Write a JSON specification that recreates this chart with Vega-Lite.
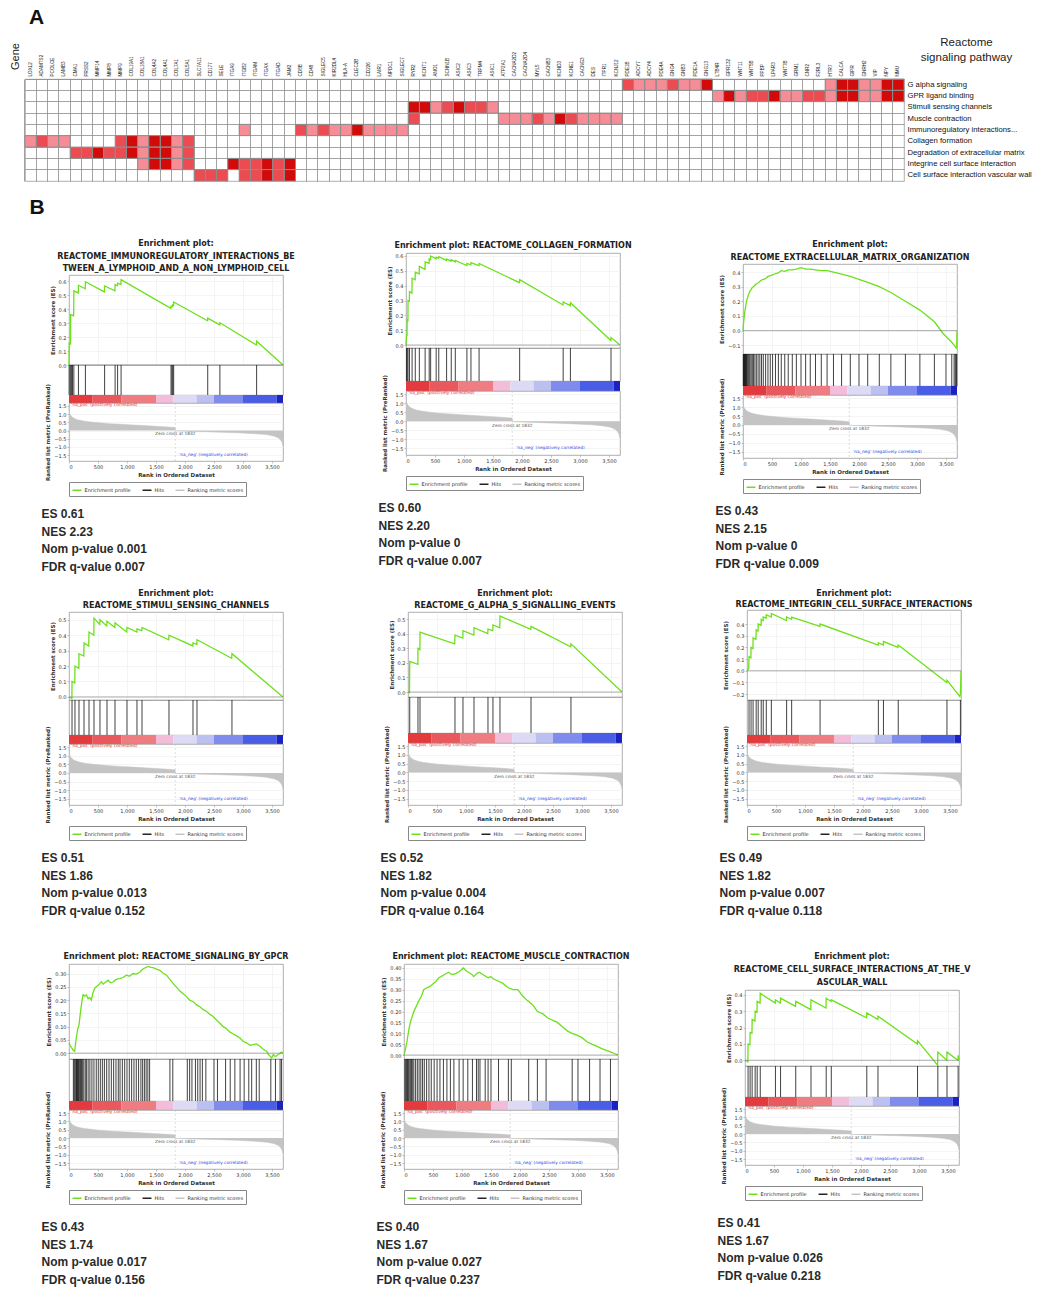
{
"$schema": "https://vega.github.io/schema/vega-lite/v6.json",
"padding": {"left": 8, "top": 6, "right": 2, "bottom": 2},
"background": "white",
"config": {
  "view": {"stroke": "#9a9a9a", "strokeWidth": 0.8},
  "axis": {"labelFont": "DejaVu Sans", "labelFontSize": 5, "labelColor": "#333", "labelOverlap": false, "labelBound": false, "titleFont": "DejaVu Sans", "titleFontSize": 5.5, "titleFontWeight": "bold", "titleColor": "#333", "tickSize": 2, "tickColor": "#888", "tickWidth": 0.5, "labelPadding": 1, "titlePadding": 3, "domain": false, "gridColor": "#ececec", "gridWidth": 0.6},
  "legend": {"labelFont": "DejaVu Sans", "labelFontSize": 5, "labelColor": "#333", "symbolStrokeWidth": 1.5, "symbolSize": 80, "strokeColor": "#888", "padding": 2.5, "columnPadding": 8, "offset": 4, "labelOffset": 2},
  "text": {"font": "DejaVu Sans"}
},
"datasets": {
  "cells": [
    {"g":"LOXL2","p":"Collagen formation","v":1},
    {"g":"ADAMTS2","p":"Collagen formation","v":2},
    {"g":"PCOLCE","p":"Collagen formation","v":1},
    {"g":"LAMB3","p":"Collagen formation","v":1},
    {"g":"CMA1","p":"Degradation of extracellular matrix","v":2},
    {"g":"PRSS2","p":"Degradation of extracellular matrix","v":2},
    {"g":"MMP14","p":"Degradation of extracellular matrix","v":3},
    {"g":"MMP8","p":"Degradation of extracellular matrix","v":2},
    {"g":"MMP9","p":"Collagen formation","v":2},
    {"g":"MMP9","p":"Degradation of extracellular matrix","v":2},
    {"g":"COL19A1","p":"Collagen formation","v":3},
    {"g":"COL19A1","p":"Degradation of extracellular matrix","v":3},
    {"g":"COL18A1","p":"Collagen formation","v":1},
    {"g":"COL18A1","p":"Degradation of extracellular matrix","v":1},
    {"g":"COL18A1","p":"Integrine cell surface interaction","v":1},
    {"g":"COL4A2","p":"Collagen formation","v":3},
    {"g":"COL4A2","p":"Degradation of extracellular matrix","v":3},
    {"g":"COL4A2","p":"Integrine cell surface interaction","v":3},
    {"g":"COL4A1","p":"Collagen formation","v":3},
    {"g":"COL4A1","p":"Degradation of extracellular matrix","v":3},
    {"g":"COL4A1","p":"Integrine cell surface interaction","v":3},
    {"g":"COL7A1","p":"Collagen formation","v":1},
    {"g":"COL7A1","p":"Degradation of extracellular matrix","v":1},
    {"g":"COL7A1","p":"Integrine cell surface interaction","v":1},
    {"g":"COL5A1","p":"Collagen formation","v":2},
    {"g":"COL5A1","p":"Degradation of extracellular matrix","v":2},
    {"g":"COL5A1","p":"Integrine cell surface interaction","v":2},
    {"g":"SLC7A11","p":"Cell surface interaction vascular wall","v":2},
    {"g":"CD177","p":"Cell surface interaction vascular wall","v":2},
    {"g":"SELE","p":"Cell surface interaction vascular wall","v":2},
    {"g":"ITGA9","p":"Integrine cell surface interaction","v":3},
    {"g":"ITGB2","p":"Immunoregulatory interactions...","v":1},
    {"g":"ITGB2","p":"Integrine cell surface interaction","v":2},
    {"g":"ITGB2","p":"Cell surface interaction vascular wall","v":2},
    {"g":"ITGAM","p":"Integrine cell surface interaction","v":2},
    {"g":"ITGAM","p":"Cell surface interaction vascular wall","v":2},
    {"g":"ITGAX","p":"Integrine cell surface interaction","v":3},
    {"g":"ITGAX","p":"Cell surface interaction vascular wall","v":3},
    {"g":"ITGAD","p":"Integrine cell surface interaction","v":2},
    {"g":"ITGAD","p":"Cell surface interaction vascular wall","v":2},
    {"g":"JAM2","p":"Integrine cell surface interaction","v":3},
    {"g":"JAM2","p":"Cell surface interaction vascular wall","v":3},
    {"g":"CD8B","p":"Immunoregulatory interactions...","v":2},
    {"g":"CD48","p":"Immunoregulatory interactions...","v":1},
    {"g":"SIGLEC5","p":"Immunoregulatory interactions...","v":2},
    {"g":"KIR2DL4","p":"Immunoregulatory interactions...","v":1},
    {"g":"HLA-A","p":"Immunoregulatory interactions...","v":1},
    {"g":"CLEC2B","p":"Immunoregulatory interactions...","v":3},
    {"g":"CD226","p":"Immunoregulatory interactions...","v":1},
    {"g":"LAIR1","p":"Immunoregulatory interactions...","v":1},
    {"g":"NPDC1","p":"Immunoregulatory interactions...","v":1},
    {"g":"SIGLEC7","p":"Immunoregulatory interactions...","v":1},
    {"g":"RYR2","p":"Stimuli sensing channels","v":3},
    {"g":"RYR2","p":"Muscle contraction","v":2},
    {"g":"KCNT1","p":"Stimuli sensing channels","v":3},
    {"g":"ANO1","p":"Stimuli sensing channels","v":1},
    {"g":"SCNN1B","p":"Stimuli sensing channels","v":2},
    {"g":"ASIC2","p":"Stimuli sensing channels","v":3},
    {"g":"ASIC3","p":"Stimuli sensing channels","v":2},
    {"g":"TRPM4","p":"Stimuli sensing channels","v":2},
    {"g":"ASIC1","p":"Stimuli sensing channels","v":1},
    {"g":"ATP2A1","p":"Muscle contraction","v":1},
    {"g":"CACNA2D2","p":"Muscle contraction","v":1},
    {"g":"CACNA2D4","p":"Muscle contraction","v":1},
    {"g":"MYL5","p":"Muscle contraction","v":2},
    {"g":"CACNB3","p":"Muscle contraction","v":1},
    {"g":"KCND3","p":"Muscle contraction","v":3},
    {"g":"KCNE1","p":"Muscle contraction","v":2},
    {"g":"CACNG3","p":"Muscle contraction","v":1},
    {"g":"DES","p":"Muscle contraction","v":1},
    {"g":"ITPR1","p":"Muscle contraction","v":1},
    {"g":"KCNJ12","p":"Muscle contraction","v":1},
    {"g":"PDE1B","p":"G alpha signaling","v":2},
    {"g":"ADCY7","p":"G alpha signaling","v":1},
    {"g":"ADCY4","p":"G alpha signaling","v":1},
    {"g":"PDE4A","p":"G alpha signaling","v":1},
    {"g":"GNG4","p":"G alpha signaling","v":2},
    {"g":"GNB3","p":"G alpha signaling","v":1},
    {"g":"PDE1A","p":"G alpha signaling","v":1},
    {"g":"GNG13","p":"G alpha signaling","v":3},
    {"g":"LTB4R","p":"GPR ligand binding","v":1},
    {"g":"GPR132","p":"GPR ligand binding","v":3},
    {"g":"WNT11","p":"GPR ligand binding","v":1},
    {"g":"WNT5B","p":"GPR ligand binding","v":2},
    {"g":"PPBP","p":"GPR ligand binding","v":2},
    {"g":"LPAR3","p":"GPR ligand binding","v":3},
    {"g":"WNT7B","p":"GPR ligand binding","v":1},
    {"g":"GRM1","p":"GPR ligand binding","v":1},
    {"g":"CNR2","p":"GPR ligand binding","v":2},
    {"g":"F2RL3","p":"GPR ligand binding","v":2},
    {"g":"HTR7","p":"G alpha signaling","v":1},
    {"g":"HTR7","p":"GPR ligand binding","v":1},
    {"g":"CALCA","p":"G alpha signaling","v":3},
    {"g":"CALCA","p":"GPR ligand binding","v":3},
    {"g":"GIPR","p":"G alpha signaling","v":3},
    {"g":"GIPR","p":"GPR ligand binding","v":3},
    {"g":"GNRH2","p":"G alpha signaling","v":1},
    {"g":"GNRH2","p":"GPR ligand binding","v":1},
    {"g":"VIP","p":"G alpha signaling","v":1},
    {"g":"VIP","p":"GPR ligand binding","v":1},
    {"g":"NPY","p":"G alpha signaling","v":3},
    {"g":"NPY","p":"GPR ligand binding","v":3},
    {"g":"NMU","p":"G alpha signaling","v":3},
    {"g":"NMU","p":"GPR ligand binding","v":3}
  ],
  "metric": [
    {"rank":0,"m":1.5},{"rank":4,"m":1.25},{"rank":10,"m":1.08},{"rank":20,"m":0.98},{"rank":35,"m":0.9},{"rank":55,"m":0.82},{"rank":85,"m":0.75},{"rank":130,"m":0.68},{"rank":190,"m":0.62},{"rank":270,"m":0.57},{"rank":380,"m":0.52},{"rank":520,"m":0.47},{"rank":700,"m":0.42},{"rank":900,"m":0.38},{"rank":1100,"m":0.34},{"rank":1300,"m":0.3},{"rank":1500,"m":0.26},{"rank":1700,"m":0.22},{"rank":1831,"m":0.18},{"rank":1833,"m":-0.02},{"rank":2000,"m":-0.04},{"rank":2300,"m":-0.07},{"rank":2600,"m":-0.1},{"rank":2900,"m":-0.14},{"rank":3200,"m":-0.19},{"rank":3400,"m":-0.25},{"rank":3530,"m":-0.33},{"rank":3610,"m":-0.45},{"rank":3650,"m":-0.58},{"rank":3675,"m":-0.75},{"rank":3690,"m":-0.95}
  ],
  "bar": [
    {"start":0,"end":400,"seg":1},{"start":400,"end":900,"seg":2},{"start":900,"end":1500,"seg":3},{"start":1500,"end":1800,"seg":4},{"start":1800,"end":2200,"seg":5},{"start":2200,"end":2500,"seg":6},{"start":2500,"end":3000,"seg":7},{"start":3000,"end":3580,"seg":8},{"start":3580,"end":3690,"seg":9}
  ],
  "es1": [
    {"rank":0,"es":0},{"rank":3,"es":0.155},{"rank":25,"es":0.15},{"rank":28,"es":0.36},{"rank":80,"es":0.352},{"rank":84,"es":0.53},{"rank":160,"es":0.515},{"rank":163,"es":0.57},{"rank":280,"es":0.545},{"rank":283,"es":0.595},{"rank":610,"es":0.522},{"rank":614,"es":0.565},{"rank":792,"es":0.53},{"rank":795,"es":0.575},{"rank":835,"es":0.566},{"rank":838,"es":0.585},{"rank":895,"es":0.575},{"rank":898,"es":0.61},{"rank":1756,"es":0.405},{"rank":1759,"es":0.42},{"rank":1772,"es":0.417},{"rank":1775,"es":0.42},{"rank":1786,"es":0.418},{"rank":1789,"es":0.43},{"rank":1802,"es":0.427},{"rank":1805,"es":0.45},{"rank":2389,"es":0.316},{"rank":2392,"es":0.335},{"rank":2599,"es":0.287},{"rank":2602,"es":0.302},{"rank":3232,"es":0.143},{"rank":3235,"es":0.17},{"rank":3690,"es":0}
  ],
  "hits1": [{"rank":3},{"rank":28},{"rank":45},{"rank":60},{"rank":84},{"rank":163},{"rank":283},{"rank":614},{"rank":795},{"rank":838},{"rank":898},{"rank":1759},{"rank":1775},{"rank":1789},{"rank":1805},{"rank":2392},{"rank":2602},{"rank":3235}],
  "es2": [
    {"rank":0,"es":0},{"rank":10,"es":0.07},{"rank":18,"es":0.068},{"rank":20,"es":0.17},{"rank":33,"es":0.165},{"rank":35,"es":0.3},{"rank":58,"es":0.295},{"rank":60,"es":0.36},{"rank":103,"es":0.35},{"rank":105,"es":0.45},{"rank":158,"es":0.44},{"rank":160,"es":0.49},{"rank":228,"es":0.48},{"rank":230,"es":0.53},{"rank":328,"es":0.51},{"rank":330,"es":0.56},{"rank":398,"es":0.55},{"rank":400,"es":0.58},{"rank":423,"es":0.575},{"rank":425,"es":0.6},{"rank":518,"es":0.58},{"rank":520,"es":0.59},{"rank":563,"es":0.585},{"rank":565,"es":0.595},{"rank":698,"es":0.57},{"rank":700,"es":0.58},{"rank":778,"es":0.565},{"rank":780,"es":0.575},{"rank":848,"es":0.56},{"rank":850,"es":0.57},{"rank":1048,"es":0.535},{"rank":1050,"es":0.55},{"rank":1118,"es":0.54},{"rank":1120,"es":0.555},{"rank":1258,"es":0.535},{"rank":1260,"es":0.55},{"rank":1958,"es":0.42},{"rank":1960,"es":0.44},{"rank":2708,"es":0.27},{"rank":2710,"es":0.29},{"rank":2833,"es":0.265},{"rank":2835,"es":0.285},{"rank":3533,"es":0.03},{"rank":3535,"es":0.05},{"rank":3690,"es":0}
  ],
  "hits2": [{"rank":10},{"rank":20},{"rank":35},{"rank":60},{"rank":105},{"rank":160},{"rank":230},{"rank":330},{"rank":400},{"rank":425},{"rank":520},{"rank":565},{"rank":700},{"rank":780},{"rank":850},{"rank":1050},{"rank":1120},{"rank":1260},{"rank":1960},{"rank":2710},{"rank":2835},{"rank":3535}],
  "es3": [
    {"rank":0,"es":0},{"rank":5,"es":0.03},{"rank":12,"es":0.06},{"rank":20,"es":0.09},{"rank":28,"es":0.12},{"rank":35,"es":0.14},{"rank":44,"es":0.16},{"rank":52,"es":0.18},{"rank":60,"es":0.2},{"rank":75,"es":0.22},{"rank":90,"es":0.24},{"rank":105,"es":0.255},{"rank":120,"es":0.27},{"rank":140,"es":0.28},{"rank":160,"es":0.295},{"rank":180,"es":0.3},{"rank":205,"es":0.31},{"rank":230,"es":0.32},{"rank":260,"es":0.325},{"rank":290,"es":0.335},{"rank":320,"es":0.345},{"rank":350,"es":0.35},{"rank":390,"es":0.355},{"rank":430,"es":0.37},{"rank":470,"es":0.375},{"rank":510,"es":0.38},{"rank":560,"es":0.39},{"rank":610,"es":0.395},{"rank":660,"es":0.41},{"rank":720,"es":0.405},{"rank":780,"es":0.415},{"rank":850,"es":0.415},{"rank":920,"es":0.42},{"rank":1000,"es":0.43},{"rank":1080,"es":0.42},{"rank":1160,"es":0.42},{"rank":1250,"es":0.415},{"rank":1350,"es":0.41},{"rank":1450,"es":0.41},{"rank":1560,"es":0.4},{"rank":1700,"es":0.385},{"rank":1850,"es":0.37},{"rank":2000,"es":0.35},{"rank":2150,"es":0.33},{"rank":2350,"es":0.3},{"rank":2550,"es":0.26},{"rank":2800,"es":0.2},{"rank":3050,"es":0.14},{"rank":3300,"es":0.06},{"rank":3450,"es":-0.02},{"rank":3500,"es":-0.04},{"rank":3600,"es":-0.08},{"rank":3640,"es":-0.1},{"rank":3660,"es":-0.11},{"rank":3675,"es":-0.12},{"rank":3685,"es":-0.115},{"rank":3690,"es":0}
  ],
  "hits3": [{"rank":5},{"rank":12},{"rank":20},{"rank":28},{"rank":35},{"rank":44},{"rank":52},{"rank":60},{"rank":75},{"rank":90},{"rank":105},{"rank":120},{"rank":140},{"rank":160},{"rank":180},{"rank":205},{"rank":230},{"rank":260},{"rank":290},{"rank":320},{"rank":350},{"rank":390},{"rank":430},{"rank":470},{"rank":510},{"rank":560},{"rank":610},{"rank":660},{"rank":720},{"rank":780},{"rank":850},{"rank":920},{"rank":1000},{"rank":1080},{"rank":1160},{"rank":1250},{"rank":1350},{"rank":1450},{"rank":1560},{"rank":1700},{"rank":1850},{"rank":2000},{"rank":2150},{"rank":2350},{"rank":2550},{"rank":2800},{"rank":3050},{"rank":3300},{"rank":3500},{"rank":3600},{"rank":3640},{"rank":3660},{"rank":3675},{"rank":3685}],
  "es4": [
    {"rank":0,"es":0},{"rank":50,"es":-0.01},{"rank":52,"es":0.1},{"rank":100,"es":0.09},{"rank":103,"es":0.2},{"rank":170,"es":0.185},{"rank":172,"es":0.28},{"rank":255,"es":0.265},{"rank":259,"es":0.35},{"rank":340,"es":0.33},{"rank":345,"es":0.42},{"rank":428,"es":0.4},{"rank":431,"es":0.51},{"rank":530,"es":0.47},{"rank":534,"es":0.5},{"rank":650,"es":0.46},{"rank":655,"es":0.49},{"rank":790,"es":0.45},{"rank":793,"es":0.48},{"rank":995,"es":0.42},{"rank":1000,"es":0.45},{"rank":1170,"es":0.42},{"rank":1172,"es":0.44},{"rank":1255,"es":0.43},{"rank":1259,"es":0.45},{"rank":1720,"es":0.37},{"rank":1724,"es":0.4},{"rank":2135,"es":0.33},{"rank":2138,"es":0.35},{"rank":2205,"es":0.34},{"rank":2207,"es":0.37},{"rank":2805,"es":0.25},{"rank":2810,"es":0.28},{"rank":3690,"es":0}
  ],
  "hits4": [{"rank":52},{"rank":103},{"rank":172},{"rank":259},{"rank":345},{"rank":431},{"rank":534},{"rank":655},{"rank":793},{"rank":1000},{"rank":1172},{"rank":1259},{"rank":1724},{"rank":2138},{"rank":2207},{"rank":2810}],
  "es5": [
    {"rank":0,"es":0},{"rank":25,"es":-0.005},{"rank":30,"es":0.21},{"rank":170,"es":0.19},{"rank":172,"es":0.3},{"rank":205,"es":0.29},{"rank":207,"es":0.41},{"rank":805,"es":0.33},{"rank":810,"es":0.39},{"rank":945,"es":0.37},{"rank":948,"es":0.42},{"rank":1135,"es":0.39},{"rank":1138,"es":0.44},{"rank":1375,"es":0.4},{"rank":1379,"es":0.43},{"rank":1462,"es":0.42},{"rank":1465,"es":0.46},{"rank":1582,"es":0.44},{"rank":1586,"es":0.52},{"rank":2118,"es":0.43},{"rank":2121,"es":0.45},{"rank":2805,"es":0.31},{"rank":2810,"es":0.33},{"rank":3690,"es":0}
  ],
  "hits5": [{"rank":30},{"rank":172},{"rank":207},{"rank":810},{"rank":948},{"rank":1138},{"rank":1379},{"rank":1465},{"rank":1586},{"rank":2121},{"rank":2810}],
  "es6": [
    {"rank":0,"es":0},{"rank":30,"es":0.02},{"rank":35,"es":0.12},{"rank":68,"es":0.11},{"rank":70,"es":0.2},{"rank":103,"es":0.19},{"rank":105,"es":0.28},{"rank":155,"es":0.27},{"rank":158,"es":0.35},{"rank":190,"es":0.34},{"rank":193,"es":0.4},{"rank":243,"es":0.39},{"rank":245,"es":0.44},{"rank":278,"es":0.43},{"rank":280,"es":0.46},{"rank":330,"es":0.45},{"rank":333,"es":0.48},{"rank":418,"es":0.46},{"rank":420,"es":0.49},{"rank":680,"es":0.43},{"rank":683,"es":0.46},{"rank":768,"es":0.44},{"rank":770,"es":0.46},{"rank":1258,"es":0.38},{"rank":1260,"es":0.4},{"rank":2263,"es":0.22},{"rank":2265,"es":0.24},{"rank":2350,"es":0.22},{"rank":2353,"es":0.25},{"rank":2605,"es":0.2},{"rank":2608,"es":0.22},{"rank":3445,"es":-0.1},{"rank":3448,"es":-0.08},{"rank":3670,"es":-0.22},{"rank":3680,"es":-0.2},{"rank":3690,"es":0}
  ],
  "hits6": [{"rank":35},{"rank":70},{"rank":105},{"rank":158},{"rank":193},{"rank":245},{"rank":280},{"rank":333},{"rank":420},{"rank":683},{"rank":770},{"rank":1260},{"rank":2265},{"rank":2353},{"rank":2608},{"rank":3448},{"rank":3680}],
  "es7": [
    {"rank":0,"es":0.039},{"rank":20,"es":0.03},{"rank":40,"es":0.022},{"rank":70,"es":0.012},{"rank":98,"es":0.007},{"rank":110,"es":0.03},{"rank":127,"es":0.06},{"rank":150,"es":0.09},{"rank":173,"es":0.107},{"rank":195,"es":0.15},{"rank":213,"es":0.18},{"rank":230,"es":0.205},{"rank":242,"es":0.22},{"rank":270,"es":0.215},{"rank":299,"es":0.219},{"rank":330,"es":0.205},{"rank":357,"es":0.21},{"rank":386,"es":0.2},{"rank":410,"es":0.225},{"rank":443,"es":0.244},{"rank":470,"es":0.25},{"rank":501,"es":0.256},{"rank":530,"es":0.262},{"rank":558,"es":0.269},{"rank":590,"es":0.26},{"rank":616,"es":0.265},{"rank":645,"es":0.27},{"rank":674,"es":0.275},{"rank":720,"es":0.265},{"rank":760,"es":0.268},{"rank":800,"es":0.276},{"rank":840,"es":0.28},{"rank":875,"es":0.281},{"rank":930,"es":0.285},{"rank":990,"es":0.294},{"rank":1040,"es":0.29},{"rank":1105,"es":0.3},{"rank":1160,"es":0.298},{"rank":1220,"es":0.305},{"rank":1278,"es":0.318},{"rank":1320,"es":0.322},{"rank":1364,"es":0.327},{"rank":1410,"es":0.323},{"rank":1451,"es":0.322},{"rank":1500,"es":0.318},{"rank":1566,"es":0.312},{"rank":1620,"es":0.302},{"rank":1681,"es":0.294},{"rank":1740,"es":0.278},{"rank":1796,"es":0.262},{"rank":1850,"es":0.25},{"rank":1911,"es":0.234},{"rank":1970,"es":0.224},{"rank":2026,"es":0.213},{"rank":2080,"es":0.2},{"rank":2142,"es":0.194},{"rank":2200,"es":0.182},{"rank":2257,"es":0.175},{"rank":2310,"es":0.165},{"rank":2372,"es":0.157},{"rank":2430,"es":0.146},{"rank":2487,"es":0.138},{"rank":2540,"es":0.126},{"rank":2602,"es":0.113},{"rank":2660,"es":0.1},{"rank":2717,"es":0.092},{"rank":2770,"es":0.08},{"rank":2832,"es":0.072},{"rank":2890,"es":0.065},{"rank":2948,"es":0.057},{"rank":3000,"es":0.045},{"rank":3063,"es":0.039},{"rank":3120,"es":0.03},{"rank":3178,"es":0.032},{"rank":3230,"es":0.035},{"rank":3293,"es":0.026},{"rank":3350,"es":0.015},{"rank":3408,"es":0.007},{"rank":3440,"es":-0.005},{"rank":3466,"es":-0.011},{"rank":3495,"es":-0.018},{"rank":3523,"es":-0.005},{"rank":3550,"es":-0.012},{"rank":3581,"es":-0.01},{"rank":3610,"es":-0.004},{"rank":3638,"es":-0.002},{"rank":3660,"es":0.004},{"rank":3690,"es":0}
  ],
  "hits7": [{"rank":75},{"rank":90},{"rank":105},{"rank":120},{"rank":130},{"rank":140},{"rank":150},{"rank":160},{"rank":170},{"rank":185},{"rank":200},{"rank":215},{"rank":235},{"rank":255},{"rank":280},{"rank":300},{"rank":330},{"rank":360},{"rank":395},{"rank":430},{"rank":470},{"rank":505},{"rank":540},{"rank":575},{"rank":610},{"rank":650},{"rank":690},{"rank":730},{"rank":770},{"rank":810},{"rank":850},{"rank":880},{"rank":920},{"rank":960},{"rank":1000},{"rank":1040},{"rank":1080},{"rank":1120},{"rank":1160},{"rank":1200},{"rank":1240},{"rank":1270},{"rank":1300},{"rank":1330},{"rank":1360},{"rank":1390},{"rank":1740},{"rank":1790},{"rank":2040},{"rank":2080},{"rank":2120},{"rank":2180},{"rank":2220},{"rank":2260},{"rank":2300},{"rank":2360},{"rank":2500},{"rank":2560},{"rank":2700},{"rank":2780},{"rank":2860},{"rank":2950},{"rank":3020},{"rank":3100},{"rank":3150},{"rank":3230},{"rank":3280},{"rank":3480},{"rank":3560},{"rank":3640},{"rank":3665}],
  "es8": [
    {"rank":0,"es":0},{"rank":20,"es":0.02},{"rank":50,"es":0.06},{"rank":85,"es":0.12},{"rank":120,"es":0.16},{"rank":170,"es":0.2},{"rank":256,"es":0.25},{"rank":300,"es":0.27},{"rank":340,"es":0.3},{"rank":400,"es":0.31},{"rank":450,"es":0.315},{"rank":512,"es":0.33},{"rank":560,"es":0.34},{"rank":600,"es":0.355},{"rank":640,"es":0.36},{"rank":700,"es":0.37},{"rank":768,"es":0.38},{"rank":820,"es":0.37},{"rank":853,"es":0.37},{"rank":900,"es":0.375},{"rank":960,"es":0.385},{"rank":1024,"es":0.4},{"rank":1080,"es":0.385},{"rank":1110,"es":0.38},{"rank":1170,"es":0.37},{"rank":1200,"es":0.36},{"rank":1260,"es":0.375},{"rank":1300,"es":0.38},{"rank":1360,"es":0.37},{"rank":1450,"es":0.355},{"rank":1500,"es":0.36},{"rank":1540,"es":0.35},{"rank":1620,"es":0.34},{"rank":1700,"es":0.33},{"rank":1790,"es":0.31},{"rank":1880,"es":0.3},{"rank":1962,"es":0.3},{"rank":2050,"es":0.27},{"rank":2130,"es":0.25},{"rank":2220,"es":0.23},{"rank":2300,"es":0.2},{"rank":2390,"es":0.19},{"rank":2480,"es":0.17},{"rank":2560,"es":0.16},{"rank":2645,"es":0.15},{"rank":2730,"es":0.13},{"rank":2820,"es":0.11},{"rank":2900,"es":0.1},{"rank":2990,"es":0.09},{"rank":3070,"es":0.08},{"rank":3160,"es":0.06},{"rank":3240,"es":0.05},{"rank":3330,"es":0.04},{"rank":3410,"es":0.03},{"rank":3500,"es":0.02},{"rank":3580,"es":0.012},{"rank":3650,"es":0.005},{"rank":3690,"es":0}
  ],
  "hits8": [{"rank":15},{"rank":30},{"rank":45},{"rank":60},{"rank":75},{"rank":90},{"rank":110},{"rank":130},{"rank":150},{"rank":170},{"rank":200},{"rank":230},{"rank":260},{"rank":290},{"rank":320},{"rank":350},{"rank":390},{"rank":430},{"rank":470},{"rank":520},{"rank":570},{"rank":620},{"rank":680},{"rank":740},{"rank":800},{"rank":860},{"rank":950},{"rank":1020},{"rank":1100},{"rank":1180},{"rank":1250},{"rank":1280},{"rank":1310},{"rank":1400},{"rank":1450},{"rank":1500},{"rank":1630},{"rank":1800},{"rank":1850},{"rank":2150},{"rank":2300},{"rank":2450},{"rank":2900},{"rank":3000},{"rank":3200},{"rank":3380},{"rank":3560}],
  "es9": [
    {"rank":0,"es":0},{"rank":50,"es":-0.01},{"rank":53,"es":0.1},{"rank":85,"es":0.095},{"rank":88,"es":0.17},{"rank":120,"es":0.165},{"rank":123,"es":0.25},{"rank":172,"es":0.24},{"rank":175,"es":0.3},{"rank":207,"es":0.295},{"rank":210,"es":0.36},{"rank":260,"es":0.35},{"rank":263,"es":0.41},{"rank":522,"es":0.35},{"rank":525,"es":0.37},{"rank":610,"es":0.35},{"rank":613,"es":0.38},{"rank":872,"es":0.33},{"rank":875,"es":0.36},{"rank":1135,"es":0.31},{"rank":1138,"es":0.37},{"rank":1397,"es":0.32},{"rank":1400,"es":0.38},{"rank":1485,"es":0.36},{"rank":1488,"es":0.37},{"rank":2097,"es":0.26},{"rank":2100,"es":0.29},{"rank":2290,"es":0.25},{"rank":2293,"es":0.27},{"rank":2972,"es":0.1},{"rank":2975,"es":0.12},{"rank":3322,"es":-0.03},{"rank":3325,"es":0.05},{"rank":3480,"es":0},{"rank":3483,"es":0.05},{"rank":3672,"es":0},{"rank":3675,"es":0.03},{"rank":3690,"es":0}
  ],
  "hits9": [{"rank":53},{"rank":88},{"rank":123},{"rank":175},{"rank":210},{"rank":263},{"rank":525},{"rank":613},{"rank":875},{"rank":1138},{"rank":1400},{"rank":1488},{"rank":2100},{"rank":2293},{"rank":2975},{"rank":3325},{"rank":3483},{"rank":3675}]
},
"resolve": {"scale": {"color": "independent"}, "legend": {"color": "independent"}},
"spacing": 14,
"vconcat": [
  {
    "width": 879, "height": 102,
    "title": {"text": "A", "anchor": "start", "frame": "group", "fontSize": 21, "fontWeight": "bold", "font": "Liberation Sans", "dx": 4, "offset": 8, "color": "#111"},
    "data": {"name": "cells"},
    "mark": {"type": "rect", "stroke": "#8c8c8c", "strokeWidth": 0.8},
    "encoding": {
      "x": {"field": "g", "type": "nominal",
        "scale": {"domain": ["LOXL2","ADAMTS2","PCOLCE","LAMB3","CMA1","PRSS2","MMP14","MMP8","MMP9","COL19A1","COL18A1","COL4A2","COL4A1","COL7A1","COL5A1","SLC7A11","CD177","SELE","ITGA9","ITGB2","ITGAM","ITGAX","ITGAD","JAM2","CD8B","CD48","SIGLEC5","KIR2DL4","HLA-A","CLEC2B","CD226","LAIR1","NPDC1","SIGLEC7","RYR2","KCNT1","ANO1","SCNN1B","ASIC2","ASIC3","TRPM4","ASIC1","ATP2A1","CACNA2D2","CACNA2D4","MYL5","CACNB3","KCND3","KCNE1","CACNG3","DES","ITPR1","KCNJ12","PDE1B","ADCY7","ADCY4","PDE4A","GNG4","GNB3","PDE1A","GNG13","LTB4R","GPR132","WNT11","WNT5B","PPBP","LPAR3","WNT7B","GRM1","CNR2","F2RL3","HTR7","CALCA","GIPR","GNRH2","VIP","NPY","NMU"], "paddingInner": 0, "paddingOuter": 0},
        "axis": {"orient": "top", "labelAngle": -90, "labelFont": "Liberation Sans", "labelFontSize": 4.6, "labelColor": "#222", "labelPadding": 3, "labelOverlap": false, "ticks": false, "domain": false, "grid": true, "bandPosition": 0, "gridColor": "#8c8c8c", "gridWidth": 0.8, "gridOpacity": 1,
          "title": "Gene", "titleAngle": 270, "titleX": -10, "titleY": -23, "titleAlign": "center", "titleBaseline": "middle", "titleFont": "Liberation Sans", "titleFontSize": 11, "titleFontWeight": "normal", "titleColor": "#222"}},
      "y": {"field": "p", "type": "nominal",
        "scale": {"domain": ["G alpha signaling","GPR ligand binding","Stimuli sensing channels","Muscle contraction","Immunoregulatory interactions...","Collagen formation","Degradation of extracellular matrix","Integrine cell surface interaction","Cell surface interaction vascular wall"], "paddingInner": 0, "paddingOuter": 0},
        "axis": {"orient": "right", "labelFont": "Liberation Sans", "labelFontSize": 7.7, "labelColor": "#111", "labelPadding": 3, "labelLimit": 140, "ticks": false, "domain": false, "grid": true, "bandPosition": 0, "gridColor": "#8c8c8c", "gridWidth": 0.8, "gridOpacity": 1,
          "title": ["Reactome", "signaling pathway"], "titleAngle": 0, "titleX": 62, "titleY": -32, "titleAlign": "center", "titleBaseline": "bottom", "titleFont": "Liberation Sans", "titleFontSize": 11.5, "titleFontWeight": "normal", "titleLineHeight": 15, "titleColor": "#222"}},
      "color": {"field": "v", "type": "ordinal", "scale": {"domain": [1, 2, 3], "range": ["#f58c96", "#eb4b51", "#d20a0a"]}, "legend": null}
    }
  },
  {
    "width": 24, "height": 8, "view": {"stroke": null},
    "data": {"values": [{"l": "B"}]},
    "mark": {"type": "text", "font": "Liberation Sans", "fontSize": 21, "fontWeight": "bold", "color": "#111", "dy": 8},
    "encoding": {"text": {"field": "l"}}
  },
  {
    "spacing": 15,
    "resolve": {"scale": {"color": "independent"}, "legend": {"color": "independent"}},
    "hconcat": [
      {"width": 1, "height": 1, "view": {"stroke": null}, "data": {"values": [{}]}, "mark": {"type": "text", "text": ""}},
      {
        "spacing": 15,
        "resolve": {"scale": {"color": "independent"}, "legend": {"color": "independent"}},
        "vconcat": [
          {
            "spacing": 83,
            "resolve": {"scale": {"color": "independent"}, "legend": {"color": "independent"}},
            "hconcat": [
              {"spacing": 11, "resolve": {"scale": {"color": "independent"}, "legend": {"color": "independent"}},
               "vconcat": [
                {"bounds": "flush", "spacing": 0, "resolve": {"scale": {"color": "independent"}, "legend": {"color": "independent"}},
                 "vconcat": [
                  {"width": 214, "height": 37, "view": {"stroke": null}, "data": {"values": [{"t": "Enrichment plot:"}, {"t": "REACTOME_IMMUNOREGULATORY_INTERACTIONS_BE"}, {"t": "TWEEN_A_LYMPHOID_AND_A_NON_LYMPHOID_CELL"}]}, "mark": {"type": "text", "fontSize": 8, "fontWeight": "bold", "color": "#222"}, "encoding": {"y": {"field": "t", "type": "ordinal", "sort": null, "axis": null, "scale": {"type": "point", "padding": 0.5}}, "text": {"field": "t"}}},
                  {"width": 214, "height": 90, "data": {"name": "es1"}, "layer": [
                    {"mark": {"type": "line", "color": "#6de01c", "strokeWidth": 1.3}, "encoding": {"x": {"field": "rank", "type": "quantitative", "scale": {"domain": [0, 3690], "nice": false, "zero": false}, "axis": {"labels": false, "ticks": false, "domain": false, "title": null, "grid": true, "tickCount": 20, "values": [500,1000,1500,2000,2500,3000,3500]}}, "y": {"field": "es", "type": "quantitative", "scale": {"domain": [0, 0.643], "nice": false, "zero": false}, "axis": {"title": "Enrichment score (ES)", "values": [0,0.1,0.2,0.3,0.4,0.5,0.6], "tickCount": 20, "format": ".1f", "grid": true, "labelOverlap": false}}}},
                    {"data": {"values": [{}]}, "mark": {"type": "rule", "color": "#777", "strokeWidth": 0.6}, "encoding": {"y": {"datum": 0}}}
                  ]},
                  {"width": 214, "height": 30, "data": {"name": "hits1"}, "mark": {"type": "rule", "color": "#111", "strokeWidth": 0.8}, "encoding": {"x": {"field": "rank", "type": "quantitative", "scale": {"domain": [0, 3690], "nice": false}, "axis": null}}},
                  {"width": 214, "height": 8, "view": {"stroke": null}, "data": {"name": "bar"}, "mark": "rect", "encoding": {"x": {"field": "start", "type": "quantitative", "scale": {"domain": [0, 3690], "nice": false}, "axis": null}, "x2": {"field": "end"}, "color": {"field": "seg", "type": "ordinal", "scale": {"domain": [1,2,3,4,5,6,7,8,9], "range": ["#e33a3e","#e9585c","#ef7c80","#f3bcd9","#dcdaf5","#bcc0f1","#7f8cee","#4a5de6","#1b22c2"]}, "legend": null}}},
                  {"width": 214, "height": 58, "data": {"name": "metric"}, "layer": [
                    {"mark": {"type": "area", "color": "#c4c4c4"}, "encoding": {"x": {"field": "rank", "type": "quantitative", "scale": {"domain": [0, 3690], "nice": false}, "axis": {"title": "Rank in Ordered Dataset", "values": [0,500,1000,1500,2000,2500,3000,3500], "tickCount": 20, "format": ",d", "grid": false, "labelOverlap": false}}, "y": {"field": "m", "type": "quantitative", "scale": {"domain": [-1.86, 1.68], "nice": false}, "axis": {"title": "Ranked list metric (PreRanked)", "values": [-1.5,-1,-0.5,0,0.5,1,1.5], "tickCount": 20, "format": ".1f", "grid": true, "labelOverlap": false}}}},
                    {"mark": {"type": "line", "strokeWidth": 0.5}, "encoding": {"x": {"field": "rank", "type": "quantitative"}, "y": {"field": "m", "type": "quantitative"}, "color": {"datum": "Ranking metric scores", "scale": {"domain": ["Enrichment profile", "Hits", "Ranking metric scores"], "range": ["#6de01c", "#222222", "#c4c4c4"]}, "legend": {"orient": "bottom", "direction": "horizontal", "title": null, "symbolType": "stroke"}}}},
                    {"data": {"values": [{}]}, "mark": {"type": "rule", "color": "#bdbdbd", "strokeWidth": 0.5, "strokeDash": [2, 2]}, "encoding": {"x": {"datum": 1832}}},
                    {"data": {"values": [{}]}, "mark": {"type": "text", "text": "'na_pos' (positively correlated)", "color": "#e8282d", "fontSize": 4.3, "align": "left", "baseline": "top"}, "encoding": {"x": {"datum": 40}, "y": {"datum": 1.66}}},
                    {"data": {"values": [{}]}, "mark": {"type": "text", "text": "Zero cross at 1832", "color": "#555", "fontSize": 4.3, "align": "center", "baseline": "top"}, "encoding": {"x": {"datum": 1832}, "y": {"datum": -0.12}}},
                    {"data": {"values": [{}]}, "mark": {"type": "text", "text": "'na_neg' (negatively correlated)", "color": "#2c4be6", "fontSize": 4.3, "align": "left", "baseline": "middle"}, "encoding": {"x": {"datum": 1900}, "y": {"datum": -1.5}}}
                  ]}
                 ]},
                {"width": 1, "height": 55, "view": {"stroke": null}, "data": {"values": [{"s": "ES 0.61"}, {"s": "NES 2.23"}, {"s": "Nom p-value 0.001"}, {"s": "FDR q-value 0.007"}]}, "mark": {"type": "text", "align": "left", "baseline": "middle", "dx": -28, "font": "Liberation Sans", "fontSize": 12, "fontWeight": "bold", "color": "#2a2a2a"}, "encoding": {"y": {"field": "s", "type": "ordinal", "sort": null, "axis": null, "scale": {"type": "point", "padding": 0.07, "align": 0}}, "text": {"field": "s"}}}
               ]},
              {"spacing": 11, "resolve": {"scale": {"color": "independent"}, "legend": {"color": "independent"}},
               "vconcat": [
                {"bounds": "flush", "spacing": 0, "resolve": {"scale": {"color": "independent"}, "legend": {"color": "independent"}},
                 "vconcat": [
                  {"width": 214, "height": 15, "view": {"stroke": null}, "data": {"values": [{"t": "Enrichment plot: REACTOME_COLLAGEN_FORMATION"}]}, "mark": {"type": "text", "fontSize": 8, "fontWeight": "bold", "color": "#222"}, "encoding": {"y": {"field": "t", "type": "ordinal", "sort": null, "axis": null, "scale": {"type": "point", "padding": 0.5}}, "text": {"field": "t"}}},
                  {"width": 214, "height": 95, "data": {"name": "es2"}, "layer": [
                    {"mark": {"type": "line", "color": "#6de01c", "strokeWidth": 1.3}, "encoding": {"x": {"field": "rank", "type": "quantitative", "scale": {"domain": [0, 3690], "nice": false, "zero": false}, "axis": {"labels": false, "ticks": false, "domain": false, "title": null, "grid": true, "tickCount": 20, "values": [500,1000,1500,2000,2500,3000,3500]}}, "y": {"field": "es", "type": "quantitative", "scale": {"domain": [-0.02, 0.62], "nice": false, "zero": false}, "axis": {"title": "Enrichment score (ES)", "values": [0,0.1,0.2,0.3,0.4,0.5,0.6], "tickCount": 20, "format": ".1f", "grid": true, "labelOverlap": false}}}},
                    {"data": {"values": [{}]}, "mark": {"type": "rule", "color": "#777", "strokeWidth": 0.6}, "encoding": {"y": {"datum": 0}}}
                  ]},
                  {"width": 214, "height": 33, "data": {"name": "hits2"}, "mark": {"type": "rule", "color": "#111", "strokeWidth": 0.8}, "encoding": {"x": {"field": "rank", "type": "quantitative", "scale": {"domain": [0, 3690], "nice": false}, "axis": null}}},
                  {"width": 214, "height": 10, "view": {"stroke": null}, "data": {"name": "bar"}, "mark": "rect", "encoding": {"x": {"field": "start", "type": "quantitative", "scale": {"domain": [0, 3690], "nice": false}, "axis": null}, "x2": {"field": "end"}, "color": {"field": "seg", "type": "ordinal", "scale": {"domain": [1,2,3,4,5,6,7,8,9], "range": ["#e33a3e","#e9585c","#ef7c80","#f3bcd9","#dcdaf5","#bcc0f1","#7f8cee","#4a5de6","#1b22c2"]}, "legend": null}}},
                  {"width": 214, "height": 64, "data": {"name": "metric"}, "layer": [
                    {"mark": {"type": "area", "color": "#c4c4c4"}, "encoding": {"x": {"field": "rank", "type": "quantitative", "scale": {"domain": [0, 3690], "nice": false}, "axis": {"title": "Rank in Ordered Dataset", "values": [0,500,1000,1500,2000,2500,3000,3500], "tickCount": 20, "format": ",d", "grid": false, "labelOverlap": false}}, "y": {"field": "m", "type": "quantitative", "scale": {"domain": [-1.86, 1.68], "nice": false}, "axis": {"title": "Ranked list metric (PreRanked)", "values": [-1.5,-1,-0.5,0,0.5,1,1.5], "tickCount": 20, "format": ".1f", "grid": true, "labelOverlap": false}}}},
                    {"mark": {"type": "line", "strokeWidth": 0.5}, "encoding": {"x": {"field": "rank", "type": "quantitative"}, "y": {"field": "m", "type": "quantitative"}, "color": {"datum": "Ranking metric scores", "scale": {"domain": ["Enrichment profile", "Hits", "Ranking metric scores"], "range": ["#6de01c", "#222222", "#c4c4c4"]}, "legend": {"orient": "bottom", "direction": "horizontal", "title": null, "symbolType": "stroke"}}}},
                    {"data": {"values": [{}]}, "mark": {"type": "rule", "color": "#bdbdbd", "strokeWidth": 0.5, "strokeDash": [2, 2]}, "encoding": {"x": {"datum": 1832}}},
                    {"data": {"values": [{}]}, "mark": {"type": "text", "text": "'na_pos' (positively correlated)", "color": "#e8282d", "fontSize": 4.3, "align": "left", "baseline": "top"}, "encoding": {"x": {"datum": 40}, "y": {"datum": 1.66}}},
                    {"data": {"values": [{}]}, "mark": {"type": "text", "text": "Zero cross at 1832", "color": "#555", "fontSize": 4.3, "align": "center", "baseline": "top"}, "encoding": {"x": {"datum": 1832}, "y": {"datum": -0.12}}},
                    {"data": {"values": [{}]}, "mark": {"type": "text", "text": "'na_neg' (negatively correlated)", "color": "#2c4be6", "fontSize": 4.3, "align": "left", "baseline": "middle"}, "encoding": {"x": {"datum": 1900}, "y": {"datum": -1.5}}}
                  ]}
                 ]},
                {"width": 1, "height": 55, "view": {"stroke": null}, "data": {"values": [{"s": "ES 0.60"}, {"s": "NES 2.20"}, {"s": "Nom p-value 0"}, {"s": "FDR q-value 0.007"}]}, "mark": {"type": "text", "align": "left", "baseline": "middle", "dx": -28, "font": "Liberation Sans", "fontSize": 12, "fontWeight": "bold", "color": "#2a2a2a"}, "encoding": {"y": {"field": "s", "type": "ordinal", "sort": null, "axis": null, "scale": {"type": "point", "padding": 0.07, "align": 0}}, "text": {"field": "s"}}}
               ]},
              {"spacing": 11, "resolve": {"scale": {"color": "independent"}, "legend": {"color": "independent"}},
               "vconcat": [
                {"bounds": "flush", "spacing": 0, "resolve": {"scale": {"color": "independent"}, "legend": {"color": "independent"}},
                 "vconcat": [
                  {"width": 214, "height": 26, "view": {"stroke": null}, "data": {"values": [{"t": "Enrichment plot:"}, {"t": "REACTOME_EXTRACELLULAR_MATRIX_ORGANIZATION"}]}, "mark": {"type": "text", "fontSize": 8, "fontWeight": "bold", "color": "#222"}, "encoding": {"y": {"field": "t", "type": "ordinal", "sort": null, "axis": null, "scale": {"type": "point", "padding": 0.5}}, "text": {"field": "t"}}},
                  {"width": 214, "height": 90, "data": {"name": "es3"}, "layer": [
                    {"mark": {"type": "line", "color": "#6de01c", "strokeWidth": 1.3}, "encoding": {"x": {"field": "rank", "type": "quantitative", "scale": {"domain": [0, 3690], "nice": false, "zero": false}, "axis": {"labels": false, "ticks": false, "domain": false, "title": null, "grid": true, "tickCount": 20, "values": [500,1000,1500,2000,2500,3000,3500]}}, "y": {"field": "es", "type": "quantitative", "scale": {"domain": [-0.16, 0.455], "nice": false, "zero": false}, "axis": {"title": "Enrichment score (ES)", "values": [-0.1,0,0.1,0.2,0.3,0.4], "tickCount": 20, "format": ".1f", "grid": true, "labelOverlap": false}}}},
                    {"data": {"values": [{}]}, "mark": {"type": "rule", "color": "#777", "strokeWidth": 0.6}, "encoding": {"y": {"datum": 0}}}
                  ]},
                  {"width": 214, "height": 32, "data": {"name": "hits3"}, "mark": {"type": "rule", "color": "#111", "strokeWidth": 0.8}, "encoding": {"x": {"field": "rank", "type": "quantitative", "scale": {"domain": [0, 3690], "nice": false}, "axis": null}}},
                  {"width": 214, "height": 9, "view": {"stroke": null}, "data": {"name": "bar"}, "mark": "rect", "encoding": {"x": {"field": "start", "type": "quantitative", "scale": {"domain": [0, 3690], "nice": false}, "axis": null}, "x2": {"field": "end"}, "color": {"field": "seg", "type": "ordinal", "scale": {"domain": [1,2,3,4,5,6,7,8,9], "range": ["#e33a3e","#e9585c","#ef7c80","#f3bcd9","#dcdaf5","#bcc0f1","#7f8cee","#4a5de6","#1b22c2"]}, "legend": null}}},
                  {"width": 214, "height": 63, "data": {"name": "metric"}, "layer": [
                    {"mark": {"type": "area", "color": "#c4c4c4"}, "encoding": {"x": {"field": "rank", "type": "quantitative", "scale": {"domain": [0, 3690], "nice": false}, "axis": {"title": "Rank in Ordered Dataset", "values": [0,500,1000,1500,2000,2500,3000,3500], "tickCount": 20, "format": ",d", "grid": false, "labelOverlap": false}}, "y": {"field": "m", "type": "quantitative", "scale": {"domain": [-1.86, 1.68], "nice": false}, "axis": {"title": "Ranked list metric (PreRanked)", "values": [-1.5,-1,-0.5,0,0.5,1,1.5], "tickCount": 20, "format": ".1f", "grid": true, "labelOverlap": false}}}},
                    {"mark": {"type": "line", "strokeWidth": 0.5}, "encoding": {"x": {"field": "rank", "type": "quantitative"}, "y": {"field": "m", "type": "quantitative"}, "color": {"datum": "Ranking metric scores", "scale": {"domain": ["Enrichment profile", "Hits", "Ranking metric scores"], "range": ["#6de01c", "#222222", "#c4c4c4"]}, "legend": {"orient": "bottom", "direction": "horizontal", "title": null, "symbolType": "stroke"}}}},
                    {"data": {"values": [{}]}, "mark": {"type": "rule", "color": "#bdbdbd", "strokeWidth": 0.5, "strokeDash": [2, 2]}, "encoding": {"x": {"datum": 1832}}},
                    {"data": {"values": [{}]}, "mark": {"type": "text", "text": "'na_pos' (positively correlated)", "color": "#e8282d", "fontSize": 4.3, "align": "left", "baseline": "top"}, "encoding": {"x": {"datum": 40}, "y": {"datum": 1.66}}},
                    {"data": {"values": [{}]}, "mark": {"type": "text", "text": "Zero cross at 1832", "color": "#555", "fontSize": 4.3, "align": "center", "baseline": "top"}, "encoding": {"x": {"datum": 1832}, "y": {"datum": -0.12}}},
                    {"data": {"values": [{}]}, "mark": {"type": "text", "text": "'na_neg' (negatively correlated)", "color": "#2c4be6", "fontSize": 4.3, "align": "left", "baseline": "middle"}, "encoding": {"x": {"datum": 1900}, "y": {"datum": -1.5}}}
                  ]}
                 ]},
                {"width": 1, "height": 55, "view": {"stroke": null}, "data": {"values": [{"s": "ES 0.43"}, {"s": "NES 2.15"}, {"s": "Nom p-value 0"}, {"s": "FDR q-value 0.009"}]}, "mark": {"type": "text", "align": "left", "baseline": "middle", "dx": -28, "font": "Liberation Sans", "fontSize": 12, "fontWeight": "bold", "color": "#2a2a2a"}, "encoding": {"y": {"field": "s", "type": "ordinal", "sort": null, "axis": null, "scale": {"type": "point", "padding": 0.07, "align": 0}}, "text": {"field": "s"}}}
               ]}
            ]
          },
          {
            "spacing": 94,
            "resolve": {"scale": {"color": "independent"}, "legend": {"color": "independent"}},
            "hconcat": [
              {"spacing": 11, "resolve": {"scale": {"color": "independent"}, "legend": {"color": "independent"}},
               "vconcat": [
                {"bounds": "flush", "spacing": 0, "resolve": {"scale": {"color": "independent"}, "legend": {"color": "independent"}},
                 "vconcat": [
                  {"width": 214, "height": 24, "view": {"stroke": null}, "data": {"values": [{"t": "Enrichment plot:"}, {"t": "REACTOME_STIMULI_SENSING_CHANNELS"}]}, "mark": {"type": "text", "fontSize": 8, "fontWeight": "bold", "color": "#222"}, "encoding": {"y": {"field": "t", "type": "ordinal", "sort": null, "axis": null, "scale": {"type": "point", "padding": 0.5}}, "text": {"field": "t"}}},
                  {"width": 214, "height": 88, "data": {"name": "es4"}, "layer": [
                    {"mark": {"type": "line", "color": "#6de01c", "strokeWidth": 1.3}, "encoding": {"x": {"field": "rank", "type": "quantitative", "scale": {"domain": [0, 3690], "nice": false, "zero": false}, "axis": {"labels": false, "ticks": false, "domain": false, "title": null, "grid": true, "tickCount": 20, "values": [500,1000,1500,2000,2500,3000,3500]}}, "y": {"field": "es", "type": "quantitative", "scale": {"domain": [-0.02, 0.55], "nice": false, "zero": false}, "axis": {"title": "Enrichment score (ES)", "values": [0,0.1,0.2,0.3,0.4,0.5], "tickCount": 20, "format": ".1f", "grid": true, "labelOverlap": false}}}},
                    {"data": {"values": [{}]}, "mark": {"type": "rule", "color": "#777", "strokeWidth": 0.6}, "encoding": {"y": {"datum": 0}}}
                  ]},
                  {"width": 214, "height": 35, "data": {"name": "hits4"}, "mark": {"type": "rule", "color": "#111", "strokeWidth": 0.8}, "encoding": {"x": {"field": "rank", "type": "quantitative", "scale": {"domain": [0, 3690], "nice": false}, "axis": null}}},
                  {"width": 214, "height": 9, "view": {"stroke": null}, "data": {"name": "bar"}, "mark": "rect", "encoding": {"x": {"field": "start", "type": "quantitative", "scale": {"domain": [0, 3690], "nice": false}, "axis": null}, "x2": {"field": "end"}, "color": {"field": "seg", "type": "ordinal", "scale": {"domain": [1,2,3,4,5,6,7,8,9], "range": ["#e33a3e","#e9585c","#ef7c80","#f3bcd9","#dcdaf5","#bcc0f1","#7f8cee","#4a5de6","#1b22c2"]}, "legend": null}}},
                  {"width": 214, "height": 61, "data": {"name": "metric"}, "layer": [
                    {"mark": {"type": "area", "color": "#c4c4c4"}, "encoding": {"x": {"field": "rank", "type": "quantitative", "scale": {"domain": [0, 3690], "nice": false}, "axis": {"title": "Rank in Ordered Dataset", "values": [0,500,1000,1500,2000,2500,3000,3500], "tickCount": 20, "format": ",d", "grid": false, "labelOverlap": false}}, "y": {"field": "m", "type": "quantitative", "scale": {"domain": [-1.86, 1.68], "nice": false}, "axis": {"title": "Ranked list metric (PreRanked)", "values": [-1.5,-1,-0.5,0,0.5,1,1.5], "tickCount": 20, "format": ".1f", "grid": true, "labelOverlap": false}}}},
                    {"mark": {"type": "line", "strokeWidth": 0.5}, "encoding": {"x": {"field": "rank", "type": "quantitative"}, "y": {"field": "m", "type": "quantitative"}, "color": {"datum": "Ranking metric scores", "scale": {"domain": ["Enrichment profile", "Hits", "Ranking metric scores"], "range": ["#6de01c", "#222222", "#c4c4c4"]}, "legend": {"orient": "bottom", "direction": "horizontal", "title": null, "symbolType": "stroke"}}}},
                    {"data": {"values": [{}]}, "mark": {"type": "rule", "color": "#bdbdbd", "strokeWidth": 0.5, "strokeDash": [2, 2]}, "encoding": {"x": {"datum": 1832}}},
                    {"data": {"values": [{}]}, "mark": {"type": "text", "text": "'na_pos' (positively correlated)", "color": "#e8282d", "fontSize": 4.3, "align": "left", "baseline": "top"}, "encoding": {"x": {"datum": 40}, "y": {"datum": 1.66}}},
                    {"data": {"values": [{}]}, "mark": {"type": "text", "text": "Zero cross at 1832", "color": "#555", "fontSize": 4.3, "align": "center", "baseline": "top"}, "encoding": {"x": {"datum": 1832}, "y": {"datum": -0.12}}},
                    {"data": {"values": [{}]}, "mark": {"type": "text", "text": "'na_neg' (negatively correlated)", "color": "#2c4be6", "fontSize": 4.3, "align": "left", "baseline": "middle"}, "encoding": {"x": {"datum": 1900}, "y": {"datum": -1.5}}}
                  ]}
                 ]},
                {"width": 1, "height": 77, "view": {"stroke": null}, "data": {"values": [{"s": "ES 0.51"}, {"s": "NES 1.86"}, {"s": "Nom p-value 0.013"}, {"s": "FDR q-value 0.152"}]}, "mark": {"type": "text", "align": "left", "baseline": "middle", "dx": -28, "font": "Liberation Sans", "fontSize": 12, "fontWeight": "bold", "color": "#2a2a2a"}, "encoding": {"y": {"field": "s", "type": "ordinal", "sort": null, "axis": null, "scale": {"type": "point", "padding": 0.7, "align": 0}}, "text": {"field": "s"}}}
               ]},
              {"spacing": 11, "resolve": {"scale": {"color": "independent"}, "legend": {"color": "independent"}},
               "vconcat": [
                {"bounds": "flush", "spacing": 0, "resolve": {"scale": {"color": "independent"}, "legend": {"color": "independent"}},
                 "vconcat": [
                  {"width": 214, "height": 24, "view": {"stroke": null}, "data": {"values": [{"t": "Enrichment plot:"}, {"t": "REACTOME_G_ALPHA_S_SIGNALLING_EVENTS"}]}, "mark": {"type": "text", "fontSize": 8, "fontWeight": "bold", "color": "#222"}, "encoding": {"y": {"field": "t", "type": "ordinal", "sort": null, "axis": null, "scale": {"type": "point", "padding": 0.5}}, "text": {"field": "t"}}},
                  {"width": 214, "height": 85, "data": {"name": "es5"}, "layer": [
                    {"mark": {"type": "line", "color": "#6de01c", "strokeWidth": 1.3}, "encoding": {"x": {"field": "rank", "type": "quantitative", "scale": {"domain": [0, 3690], "nice": false, "zero": false}, "axis": {"labels": false, "ticks": false, "domain": false, "title": null, "grid": true, "tickCount": 20, "values": [500,1000,1500,2000,2500,3000,3500]}}, "y": {"field": "es", "type": "quantitative", "scale": {"domain": [-0.034, 0.548], "nice": false, "zero": false}, "axis": {"title": "Enrichment score (ES)", "values": [0,0.1,0.2,0.3,0.4,0.5], "tickCount": 20, "format": ".1f", "grid": true, "labelOverlap": false}}}},
                    {"data": {"values": [{}]}, "mark": {"type": "rule", "color": "#777", "strokeWidth": 0.6}, "encoding": {"y": {"datum": 0}}}
                  ]},
                  {"width": 214, "height": 36, "data": {"name": "hits5"}, "mark": {"type": "rule", "color": "#111", "strokeWidth": 0.8}, "encoding": {"x": {"field": "rank", "type": "quantitative", "scale": {"domain": [0, 3690], "nice": false}, "axis": null}}},
                  {"width": 214, "height": 10, "view": {"stroke": null}, "data": {"name": "bar"}, "mark": "rect", "encoding": {"x": {"field": "start", "type": "quantitative", "scale": {"domain": [0, 3690], "nice": false}, "axis": null}, "x2": {"field": "end"}, "color": {"field": "seg", "type": "ordinal", "scale": {"domain": [1,2,3,4,5,6,7,8,9], "range": ["#e33a3e","#e9585c","#ef7c80","#f3bcd9","#dcdaf5","#bcc0f1","#7f8cee","#4a5de6","#1b22c2"]}, "legend": null}}},
                  {"width": 214, "height": 62, "data": {"name": "metric"}, "layer": [
                    {"mark": {"type": "area", "color": "#c4c4c4"}, "encoding": {"x": {"field": "rank", "type": "quantitative", "scale": {"domain": [0, 3690], "nice": false}, "axis": {"title": "Rank in Ordered Dataset", "values": [0,500,1000,1500,2000,2500,3000,3500], "tickCount": 20, "format": ",d", "grid": false, "labelOverlap": false}}, "y": {"field": "m", "type": "quantitative", "scale": {"domain": [-1.86, 1.68], "nice": false}, "axis": {"title": "Ranked list metric (PreRanked)", "values": [-1.5,-1,-0.5,0,0.5,1,1.5], "tickCount": 20, "format": ".1f", "grid": true, "labelOverlap": false}}}},
                    {"mark": {"type": "line", "strokeWidth": 0.5}, "encoding": {"x": {"field": "rank", "type": "quantitative"}, "y": {"field": "m", "type": "quantitative"}, "color": {"datum": "Ranking metric scores", "scale": {"domain": ["Enrichment profile", "Hits", "Ranking metric scores"], "range": ["#6de01c", "#222222", "#c4c4c4"]}, "legend": {"orient": "bottom", "direction": "horizontal", "title": null, "symbolType": "stroke"}}}},
                    {"data": {"values": [{}]}, "mark": {"type": "rule", "color": "#bdbdbd", "strokeWidth": 0.5, "strokeDash": [2, 2]}, "encoding": {"x": {"datum": 1832}}},
                    {"data": {"values": [{}]}, "mark": {"type": "text", "text": "'na_pos' (positively correlated)", "color": "#e8282d", "fontSize": 4.3, "align": "left", "baseline": "top"}, "encoding": {"x": {"datum": 40}, "y": {"datum": 1.66}}},
                    {"data": {"values": [{}]}, "mark": {"type": "text", "text": "Zero cross at 1832", "color": "#555", "fontSize": 4.3, "align": "center", "baseline": "top"}, "encoding": {"x": {"datum": 1832}, "y": {"datum": -0.12}}},
                    {"data": {"values": [{}]}, "mark": {"type": "text", "text": "'na_neg' (negatively correlated)", "color": "#2c4be6", "fontSize": 4.3, "align": "left", "baseline": "middle"}, "encoding": {"x": {"datum": 1900}, "y": {"datum": -1.5}}}
                  ]}
                 ]},
                {"width": 1, "height": 77, "view": {"stroke": null}, "data": {"values": [{"s": "ES 0.52"}, {"s": "NES 1.82"}, {"s": "Nom p-value 0.004"}, {"s": "FDR q-value 0.164"}]}, "mark": {"type": "text", "align": "left", "baseline": "middle", "dx": -28, "font": "Liberation Sans", "fontSize": 12, "fontWeight": "bold", "color": "#2a2a2a"}, "encoding": {"y": {"field": "s", "type": "ordinal", "sort": null, "axis": null, "scale": {"type": "point", "padding": 0.7, "align": 0}}, "text": {"field": "s"}}}
               ]},
              {"spacing": 11, "resolve": {"scale": {"color": "independent"}, "legend": {"color": "independent"}},
               "vconcat": [
                {"bounds": "flush", "spacing": 0, "resolve": {"scale": {"color": "independent"}, "legend": {"color": "independent"}},
                 "vconcat": [
                  {"width": 214, "height": 22, "view": {"stroke": null}, "data": {"values": [{"t": "Enrichment plot:"}, {"t": "REACTOME_INTEGRIN_CELL_SURFACE_INTERACTIONS"}]}, "mark": {"type": "text", "fontSize": 8, "fontWeight": "bold", "color": "#222"}, "encoding": {"y": {"field": "t", "type": "ordinal", "sort": null, "axis": null, "scale": {"type": "point", "padding": 0.5}}, "text": {"field": "t"}}},
                  {"width": 214, "height": 90, "data": {"name": "es6"}, "layer": [
                    {"mark": {"type": "line", "color": "#6de01c", "strokeWidth": 1.3}, "encoding": {"x": {"field": "rank", "type": "quantitative", "scale": {"domain": [0, 3690], "nice": false, "zero": false}, "axis": {"labels": false, "ticks": false, "domain": false, "title": null, "grid": true, "tickCount": 20, "values": [500,1000,1500,2000,2500,3000,3500]}}, "y": {"field": "es", "type": "quantitative", "scale": {"domain": [-0.25, 0.52], "nice": false, "zero": false}, "axis": {"title": "Enrichment score (ES)", "values": [-0.2,-0.1,0,0.1,0.2,0.3,0.4], "tickCount": 20, "format": ".1f", "grid": true, "labelOverlap": false}}}},
                    {"data": {"values": [{}]}, "mark": {"type": "rule", "color": "#777", "strokeWidth": 0.6}, "encoding": {"y": {"datum": 0}}}
                  ]},
                  {"width": 214, "height": 35, "data": {"name": "hits6"}, "mark": {"type": "rule", "color": "#111", "strokeWidth": 0.8}, "encoding": {"x": {"field": "rank", "type": "quantitative", "scale": {"domain": [0, 3690], "nice": false}, "axis": null}}},
                  {"width": 214, "height": 8, "view": {"stroke": null}, "data": {"name": "bar"}, "mark": "rect", "encoding": {"x": {"field": "start", "type": "quantitative", "scale": {"domain": [0, 3690], "nice": false}, "axis": null}, "x2": {"field": "end"}, "color": {"field": "seg", "type": "ordinal", "scale": {"domain": [1,2,3,4,5,6,7,8,9], "range": ["#e33a3e","#e9585c","#ef7c80","#f3bcd9","#dcdaf5","#bcc0f1","#7f8cee","#4a5de6","#1b22c2"]}, "legend": null}}},
                  {"width": 214, "height": 62, "data": {"name": "metric"}, "layer": [
                    {"mark": {"type": "area", "color": "#c4c4c4"}, "encoding": {"x": {"field": "rank", "type": "quantitative", "scale": {"domain": [0, 3690], "nice": false}, "axis": {"title": "Rank in Ordered Dataset", "values": [0,500,1000,1500,2000,2500,3000,3500], "tickCount": 20, "format": ",d", "grid": false, "labelOverlap": false}}, "y": {"field": "m", "type": "quantitative", "scale": {"domain": [-1.86, 1.68], "nice": false}, "axis": {"title": "Ranked list metric (PreRanked)", "values": [-1.5,-1,-0.5,0,0.5,1,1.5], "tickCount": 20, "format": ".1f", "grid": true, "labelOverlap": false}}}},
                    {"mark": {"type": "line", "strokeWidth": 0.5}, "encoding": {"x": {"field": "rank", "type": "quantitative"}, "y": {"field": "m", "type": "quantitative"}, "color": {"datum": "Ranking metric scores", "scale": {"domain": ["Enrichment profile", "Hits", "Ranking metric scores"], "range": ["#6de01c", "#222222", "#c4c4c4"]}, "legend": {"orient": "bottom", "direction": "horizontal", "title": null, "symbolType": "stroke"}}}},
                    {"data": {"values": [{}]}, "mark": {"type": "rule", "color": "#bdbdbd", "strokeWidth": 0.5, "strokeDash": [2, 2]}, "encoding": {"x": {"datum": 1832}}},
                    {"data": {"values": [{}]}, "mark": {"type": "text", "text": "'na_pos' (positively correlated)", "color": "#e8282d", "fontSize": 4.3, "align": "left", "baseline": "top"}, "encoding": {"x": {"datum": 40}, "y": {"datum": 1.66}}},
                    {"data": {"values": [{}]}, "mark": {"type": "text", "text": "Zero cross at 1832", "color": "#555", "fontSize": 4.3, "align": "center", "baseline": "top"}, "encoding": {"x": {"datum": 1832}, "y": {"datum": -0.12}}},
                    {"data": {"values": [{}]}, "mark": {"type": "text", "text": "'na_neg' (negatively correlated)", "color": "#2c4be6", "fontSize": 4.3, "align": "left", "baseline": "middle"}, "encoding": {"x": {"datum": 1900}, "y": {"datum": -1.5}}}
                  ]}
                 ]},
                {"width": 1, "height": 77, "view": {"stroke": null}, "data": {"values": [{"s": "ES 0.49"}, {"s": "NES 1.82"}, {"s": "Nom p-value 0.007"}, {"s": "FDR q-value 0.118"}]}, "mark": {"type": "text", "align": "left", "baseline": "middle", "dx": -28, "font": "Liberation Sans", "fontSize": 12, "fontWeight": "bold", "color": "#2a2a2a"}, "encoding": {"y": {"field": "s", "type": "ordinal", "sort": null, "axis": null, "scale": {"type": "point", "padding": 0.7, "align": 0}}, "text": {"field": "s"}}}
               ]}
            ]
          },
          {
            "spacing": 87,
            "resolve": {"scale": {"color": "independent"}, "legend": {"color": "independent"}},
            "hconcat": [
              {"spacing": 16, "resolve": {"scale": {"color": "independent"}, "legend": {"color": "independent"}},
               "vconcat": [
                {"bounds": "flush", "spacing": 0, "resolve": {"scale": {"color": "independent"}, "legend": {"color": "independent"}},
                 "vconcat": [
                  {"width": 214, "height": 14, "view": {"stroke": null}, "data": {"values": [{"t": "Enrichment plot: REACTOME_SIGNALING_BY_GPCR"}]}, "mark": {"type": "text", "fontSize": 8, "fontWeight": "bold", "color": "#222"}, "encoding": {"y": {"field": "t", "type": "ordinal", "sort": null, "axis": null, "scale": {"type": "point", "padding": 0.5}}, "text": {"field": "t"}}},
                  {"width": 214, "height": 95, "data": {"name": "es7"}, "layer": [
                    {"mark": {"type": "line", "color": "#6de01c", "strokeWidth": 1.3}, "encoding": {"x": {"field": "rank", "type": "quantitative", "scale": {"domain": [0, 3690], "nice": false, "zero": false}, "axis": {"labels": false, "ticks": false, "domain": false, "title": null, "grid": true, "tickCount": 20, "values": [500,1000,1500,2000,2500,3000,3500]}}, "y": {"field": "es", "type": "quantitative", "scale": {"domain": [-0.022, 0.336], "nice": false, "zero": false}, "axis": {"title": "Enrichment score (ES)", "values": [0,0.05,0.1,0.15,0.2,0.25,0.3], "tickCount": 20, "format": ".2f", "grid": true, "labelOverlap": false}}}},
                    {"data": {"values": [{}]}, "mark": {"type": "rule", "color": "#777", "strokeWidth": 0.6}, "encoding": {"y": {"datum": 0}}}
                  ]},
                  {"width": 214, "height": 42, "data": {"name": "hits7"}, "mark": {"type": "rule", "color": "#111", "strokeWidth": 0.8}, "encoding": {"x": {"field": "rank", "type": "quantitative", "scale": {"domain": [0, 3690], "nice": false}, "axis": null}}},
                  {"width": 214, "height": 9, "view": {"stroke": null}, "data": {"name": "bar"}, "mark": "rect", "encoding": {"x": {"field": "start", "type": "quantitative", "scale": {"domain": [0, 3690], "nice": false}, "axis": null}, "x2": {"field": "end"}, "color": {"field": "seg", "type": "ordinal", "scale": {"domain": [1,2,3,4,5,6,7,8,9], "range": ["#e33a3e","#e9585c","#ef7c80","#f3bcd9","#dcdaf5","#bcc0f1","#7f8cee","#4a5de6","#1b22c2"]}, "legend": null}}},
                  {"width": 214, "height": 59, "data": {"name": "metric"}, "layer": [
                    {"mark": {"type": "area", "color": "#c4c4c4"}, "encoding": {"x": {"field": "rank", "type": "quantitative", "scale": {"domain": [0, 3690], "nice": false}, "axis": {"title": "Rank in Ordered Dataset", "values": [0,500,1000,1500,2000,2500,3000,3500], "tickCount": 20, "format": ",d", "grid": false, "labelOverlap": false}}, "y": {"field": "m", "type": "quantitative", "scale": {"domain": [-1.86, 1.68], "nice": false}, "axis": {"title": "Ranked list metric (PreRanked)", "values": [-1.5,-1,-0.5,0,0.5,1,1.5], "tickCount": 20, "format": ".1f", "grid": true, "labelOverlap": false}}}},
                    {"mark": {"type": "line", "strokeWidth": 0.5}, "encoding": {"x": {"field": "rank", "type": "quantitative"}, "y": {"field": "m", "type": "quantitative"}, "color": {"datum": "Ranking metric scores", "scale": {"domain": ["Enrichment profile", "Hits", "Ranking metric scores"], "range": ["#6de01c", "#222222", "#c4c4c4"]}, "legend": {"orient": "bottom", "direction": "horizontal", "title": null, "symbolType": "stroke"}}}},
                    {"data": {"values": [{}]}, "mark": {"type": "rule", "color": "#bdbdbd", "strokeWidth": 0.5, "strokeDash": [2, 2]}, "encoding": {"x": {"datum": 1832}}},
                    {"data": {"values": [{}]}, "mark": {"type": "text", "text": "'na_pos' (positively correlated)", "color": "#e8282d", "fontSize": 4.3, "align": "left", "baseline": "top"}, "encoding": {"x": {"datum": 40}, "y": {"datum": 1.66}}},
                    {"data": {"values": [{}]}, "mark": {"type": "text", "text": "Zero cross at 1832", "color": "#555", "fontSize": 4.3, "align": "center", "baseline": "top"}, "encoding": {"x": {"datum": 1832}, "y": {"datum": -0.12}}},
                    {"data": {"values": [{}]}, "mark": {"type": "text", "text": "'na_neg' (negatively correlated)", "color": "#2c4be6", "fontSize": 4.3, "align": "left", "baseline": "middle"}, "encoding": {"x": {"datum": 1900}, "y": {"datum": -1.5}}}
                  ]}
                 ]},
                {"width": 1, "height": 55, "view": {"stroke": null}, "data": {"values": [{"s": "ES 0.43"}, {"s": "NES 1.74"}, {"s": "Nom p-value 0.017"}, {"s": "FDR q-value 0.156"}]}, "mark": {"type": "text", "align": "left", "baseline": "middle", "dx": -28, "font": "Liberation Sans", "fontSize": 12, "fontWeight": "bold", "color": "#2a2a2a"}, "encoding": {"y": {"field": "s", "type": "ordinal", "sort": null, "axis": null, "scale": {"type": "point", "padding": 0.07, "align": 0}}, "text": {"field": "s"}}}
               ]},
              {"spacing": 16, "resolve": {"scale": {"color": "independent"}, "legend": {"color": "independent"}},
               "vconcat": [
                {"bounds": "flush", "spacing": 0, "resolve": {"scale": {"color": "independent"}, "legend": {"color": "independent"}},
                 "vconcat": [
                  {"width": 214, "height": 14, "view": {"stroke": null}, "data": {"values": [{"t": "Enrichment plot: REACTOME_MUSCLE_CONTRACTION"}]}, "mark": {"type": "text", "fontSize": 8, "fontWeight": "bold", "color": "#222"}, "encoding": {"y": {"field": "t", "type": "ordinal", "sort": null, "axis": null, "scale": {"type": "point", "padding": 0.5}}, "text": {"field": "t"}}},
                  {"width": 214, "height": 95, "data": {"name": "es8"}, "layer": [
                    {"mark": {"type": "line", "color": "#6de01c", "strokeWidth": 1.3}, "encoding": {"x": {"field": "rank", "type": "quantitative", "scale": {"domain": [0, 3690], "nice": false, "zero": false}, "axis": {"labels": false, "ticks": false, "domain": false, "title": null, "grid": true, "tickCount": 20, "values": [500,1000,1500,2000,2500,3000,3500]}}, "y": {"field": "es", "type": "quantitative", "scale": {"domain": [-0.018, 0.418], "nice": false, "zero": false}, "axis": {"title": "Enrichment score (ES)", "values": [0,0.05,0.1,0.15,0.2,0.25,0.3,0.35,0.4], "tickCount": 20, "format": ".2f", "grid": true, "labelOverlap": false}}}},
                    {"data": {"values": [{}]}, "mark": {"type": "rule", "color": "#777", "strokeWidth": 0.6}, "encoding": {"y": {"datum": 0}}}
                  ]},
                  {"width": 214, "height": 42, "data": {"name": "hits8"}, "mark": {"type": "rule", "color": "#111", "strokeWidth": 0.8}, "encoding": {"x": {"field": "rank", "type": "quantitative", "scale": {"domain": [0, 3690], "nice": false}, "axis": null}}},
                  {"width": 214, "height": 9, "view": {"stroke": null}, "data": {"name": "bar"}, "mark": "rect", "encoding": {"x": {"field": "start", "type": "quantitative", "scale": {"domain": [0, 3690], "nice": false}, "axis": null}, "x2": {"field": "end"}, "color": {"field": "seg", "type": "ordinal", "scale": {"domain": [1,2,3,4,5,6,7,8,9], "range": ["#e33a3e","#e9585c","#ef7c80","#f3bcd9","#dcdaf5","#bcc0f1","#7f8cee","#4a5de6","#1b22c2"]}, "legend": null}}},
                  {"width": 214, "height": 59, "data": {"name": "metric"}, "layer": [
                    {"mark": {"type": "area", "color": "#c4c4c4"}, "encoding": {"x": {"field": "rank", "type": "quantitative", "scale": {"domain": [0, 3690], "nice": false}, "axis": {"title": "Rank in Ordered Dataset", "values": [0,500,1000,1500,2000,2500,3000,3500], "tickCount": 20, "format": ",d", "grid": false, "labelOverlap": false}}, "y": {"field": "m", "type": "quantitative", "scale": {"domain": [-1.86, 1.68], "nice": false}, "axis": {"title": "Ranked list metric (PreRanked)", "values": [-1.5,-1,-0.5,0,0.5,1,1.5], "tickCount": 20, "format": ".1f", "grid": true, "labelOverlap": false}}}},
                    {"mark": {"type": "line", "strokeWidth": 0.5}, "encoding": {"x": {"field": "rank", "type": "quantitative"}, "y": {"field": "m", "type": "quantitative"}, "color": {"datum": "Ranking metric scores", "scale": {"domain": ["Enrichment profile", "Hits", "Ranking metric scores"], "range": ["#6de01c", "#222222", "#c4c4c4"]}, "legend": {"orient": "bottom", "direction": "horizontal", "title": null, "symbolType": "stroke"}}}},
                    {"data": {"values": [{}]}, "mark": {"type": "rule", "color": "#bdbdbd", "strokeWidth": 0.5, "strokeDash": [2, 2]}, "encoding": {"x": {"datum": 1832}}},
                    {"data": {"values": [{}]}, "mark": {"type": "text", "text": "'na_pos' (positively correlated)", "color": "#e8282d", "fontSize": 4.3, "align": "left", "baseline": "top"}, "encoding": {"x": {"datum": 40}, "y": {"datum": 1.66}}},
                    {"data": {"values": [{}]}, "mark": {"type": "text", "text": "Zero cross at 1832", "color": "#555", "fontSize": 4.3, "align": "center", "baseline": "top"}, "encoding": {"x": {"datum": 1832}, "y": {"datum": -0.12}}},
                    {"data": {"values": [{}]}, "mark": {"type": "text", "text": "'na_neg' (negatively correlated)", "color": "#2c4be6", "fontSize": 4.3, "align": "left", "baseline": "middle"}, "encoding": {"x": {"datum": 1900}, "y": {"datum": -1.5}}}
                  ]}
                 ]},
                {"width": 1, "height": 55, "view": {"stroke": null}, "data": {"values": [{"s": "ES 0.40"}, {"s": "NES 1.67"}, {"s": "Nom p-value 0.027"}, {"s": "FDR q-value 0.237"}]}, "mark": {"type": "text", "align": "left", "baseline": "middle", "dx": -28, "font": "Liberation Sans", "fontSize": 12, "fontWeight": "bold", "color": "#2a2a2a"}, "encoding": {"y": {"field": "s", "type": "ordinal", "sort": null, "axis": null, "scale": {"type": "point", "padding": 0.07, "align": 0}}, "text": {"field": "s"}}}
               ]},
              {"spacing": 16, "resolve": {"scale": {"color": "independent"}, "legend": {"color": "independent"}},
               "vconcat": [
                {"bounds": "flush", "spacing": 0, "resolve": {"scale": {"color": "independent"}, "legend": {"color": "independent"}},
                 "vconcat": [
                  {"width": 214, "height": 40, "view": {"stroke": null}, "data": {"values": [{"t": "Enrichment plot:"}, {"t": "REACTOME_CELL_SURFACE_INTERACTIONS_AT_THE_V"}, {"t": "ASCULAR_WALL"}]}, "mark": {"type": "text", "fontSize": 8, "fontWeight": "bold", "color": "#222"}, "encoding": {"y": {"field": "t", "type": "ordinal", "sort": null, "axis": null, "scale": {"type": "point", "padding": 0.5}}, "text": {"field": "t"}}},
                  {"width": 214, "height": 76, "data": {"name": "es9"}, "layer": [
                    {"mark": {"type": "line", "color": "#6de01c", "strokeWidth": 1.3}, "encoding": {"x": {"field": "rank", "type": "quantitative", "scale": {"domain": [0, 3690], "nice": false, "zero": false}, "axis": {"labels": false, "ticks": false, "domain": false, "title": null, "grid": true, "tickCount": 20, "values": [500,1000,1500,2000,2500,3000,3500]}}, "y": {"field": "es", "type": "quantitative", "scale": {"domain": [-0.035, 0.43], "nice": false, "zero": false}, "axis": {"title": "Enrichment score (ES)", "values": [0,0.1,0.2,0.3,0.4], "tickCount": 20, "format": ".1f", "grid": true, "labelOverlap": false}}}},
                    {"data": {"values": [{}]}, "mark": {"type": "rule", "color": "#777", "strokeWidth": 0.6}, "encoding": {"y": {"datum": 0}}}
                  ]},
                  {"width": 214, "height": 31, "data": {"name": "hits9"}, "mark": {"type": "rule", "color": "#111", "strokeWidth": 0.8}, "encoding": {"x": {"field": "rank", "type": "quantitative", "scale": {"domain": [0, 3690], "nice": false}, "axis": null}}},
                  {"width": 214, "height": 9, "view": {"stroke": null}, "data": {"name": "bar"}, "mark": "rect", "encoding": {"x": {"field": "start", "type": "quantitative", "scale": {"domain": [0, 3690], "nice": false}, "axis": null}, "x2": {"field": "end"}, "color": {"field": "seg", "type": "ordinal", "scale": {"domain": [1,2,3,4,5,6,7,8,9], "range": ["#e33a3e","#e9585c","#ef7c80","#f3bcd9","#dcdaf5","#bcc0f1","#7f8cee","#4a5de6","#1b22c2"]}, "legend": null}}},
                  {"width": 214, "height": 59, "data": {"name": "metric"}, "layer": [
                    {"mark": {"type": "area", "color": "#c4c4c4"}, "encoding": {"x": {"field": "rank", "type": "quantitative", "scale": {"domain": [0, 3690], "nice": false}, "axis": {"title": "Rank in Ordered Dataset", "values": [0,500,1000,1500,2000,2500,3000,3500], "tickCount": 20, "format": ",d", "grid": false, "labelOverlap": false}}, "y": {"field": "m", "type": "quantitative", "scale": {"domain": [-1.86, 1.68], "nice": false}, "axis": {"title": "Ranked list metric (PreRanked)", "values": [-1.5,-1,-0.5,0,0.5,1,1.5], "tickCount": 20, "format": ".1f", "grid": true, "labelOverlap": false}}}},
                    {"mark": {"type": "line", "strokeWidth": 0.5}, "encoding": {"x": {"field": "rank", "type": "quantitative"}, "y": {"field": "m", "type": "quantitative"}, "color": {"datum": "Ranking metric scores", "scale": {"domain": ["Enrichment profile", "Hits", "Ranking metric scores"], "range": ["#6de01c", "#222222", "#c4c4c4"]}, "legend": {"orient": "bottom", "direction": "horizontal", "title": null, "symbolType": "stroke"}}}},
                    {"data": {"values": [{}]}, "mark": {"type": "rule", "color": "#bdbdbd", "strokeWidth": 0.5, "strokeDash": [2, 2]}, "encoding": {"x": {"datum": 1832}}},
                    {"data": {"values": [{}]}, "mark": {"type": "text", "text": "'na_pos' (positively correlated)", "color": "#e8282d", "fontSize": 4.3, "align": "left", "baseline": "top"}, "encoding": {"x": {"datum": 40}, "y": {"datum": 1.66}}},
                    {"data": {"values": [{}]}, "mark": {"type": "text", "text": "Zero cross at 1832", "color": "#555", "fontSize": 4.3, "align": "center", "baseline": "top"}, "encoding": {"x": {"datum": 1832}, "y": {"datum": -0.12}}},
                    {"data": {"values": [{}]}, "mark": {"type": "text", "text": "'na_neg' (negatively correlated)", "color": "#2c4be6", "fontSize": 4.3, "align": "left", "baseline": "middle"}, "encoding": {"x": {"datum": 1900}, "y": {"datum": -1.5}}}
                  ]}
                 ]},
                {"width": 1, "height": 55, "view": {"stroke": null}, "data": {"values": [{"s": "ES 0.41"}, {"s": "NES 1.67"}, {"s": "Nom p-value 0.026"}, {"s": "FDR q-value 0.218"}]}, "mark": {"type": "text", "align": "left", "baseline": "middle", "dx": -28, "font": "Liberation Sans", "fontSize": 12, "fontWeight": "bold", "color": "#2a2a2a"}, "encoding": {"y": {"field": "s", "type": "ordinal", "sort": null, "axis": null, "scale": {"type": "point", "padding": 0.07, "align": 0}}, "text": {"field": "s"}}}
               ]}
            ]
          }
        ]
      }
    ]
  }
]
}
